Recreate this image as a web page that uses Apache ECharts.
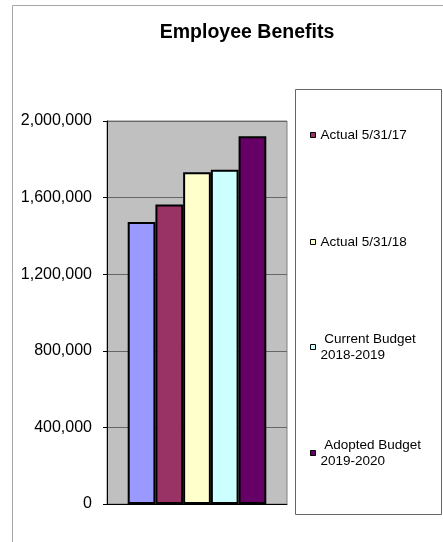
<!DOCTYPE html>
<html>
<head>
<meta charset="utf-8">
<script src="https://cdn.jsdelivr.net/npm/echarts@6/dist/echarts.min.js"></script>
<style>
  html, body { margin: 0; padding: 0; background: #fff; }
  #chart { width: 443px; height: 542px; }
</style>
</head>
<body>
<div id="chart"></div>
<script>
// Employee benefits by period
const categories = [''];
const seriesNames = ['', 'Actual 5/31/17', 'Actual 5/31/18', 'Current Budget 2018-2019', 'Adopted Budget 2019-2020'];
const seriesValues = [1473000, 1564000, 1732000, 1746000, 1920000];
const seriesColors = ['#9999FF', '#993366', '#FFFFCC', '#CCFFFF', '#660066'];
const yTicks = [0, 400000, 800000, 1200000, 1600000, 2000000];

// Legend text as it wraps inside the legend box
const legendText = {
  'Actual 5/31/17': 'Actual 5/31/17',
  'Actual 5/31/18': 'Actual 5/31/18',
  'Current Budget 2018-2019': ' Current Budget\n2018-2019',
  'Adopted Budget 2019-2020': ' Adopted Budget\n2019-2020'
};
// Centre line of each legend swatch
const legendRows = [135, 242, 347, 453];

const FONT = '"Liberation Sans", Arial, sans-serif';
const fmt = v => String(v).replace(/\B(?=(\d{3})+(?!\d))/g, ',');

const legends = seriesNames.slice(1).map((name, i) => {
  const twoLine = legendText[name].indexOf('\n') >= 0;
  return {
    data: [name],
    left: 310,
    top: legendRows[i] - (twoLine ? 24 : 8),
    padding: 0,
    icon: 'rect',
    itemWidth: 5,
    itemHeight: 5,
    itemStyle: { borderColor: '#000', borderWidth: 1 },
    selectedMode: false,
    formatter: n => legendText[n],
    textStyle: {
      fontFamily: FONT,
      fontSize: 13.5,
      color: '#000',
      lineHeight: 16,
      padding: twoLine ? [16, 0, 0, 0] : 0
    }
  };
});

const chart = echarts.init(document.getElementById('chart'), null, { renderer: 'canvas' });
chart.setOption({
  animation: false,
  backgroundColor: '#fff',
  title: {
    text: 'Employee Benefits',
    left: 247,
    textAlign: 'center',
    top: 23,
    padding: 0,
    textStyle: { fontFamily: FONT, fontSize: 19.5, fontWeight: 'bold', color: '#000', lineHeight: 20 }
  },
  legend: legends,
  grid: {
    left: 107,
    top: 121,
    width: 180,
    height: 383,
    show: true,
    backgroundColor: '#c0c0c0',
    borderColor: '#808080',
    borderWidth: 1
  },
  xAxis: {
    type: 'category',
    data: categories,
    axisLine: { show: true, lineStyle: { color: '#000', width: 1 } },
    axisTick: { show: false },
    axisLabel: { show: false },
    splitLine: { show: false }
  },
  yAxis: {
    type: 'value',
    min: yTicks[0],
    max: yTicks[yTicks.length - 1],
    interval: yTicks[1] - yTicks[0],
    axisLine: { show: true, lineStyle: { color: '#000', width: 1 } },
    axisTick: { show: true, inside: false, length: 4, lineStyle: { color: '#000' } },
    axisLabel: { fontFamily: FONT, fontSize: 16, color: '#000', margin: 15, formatter: fmt },
    splitLine: { show: true, lineStyle: { color: '#666', width: 1 } }
  },
  series: seriesNames.map((name, i) => ({
    type: 'bar',
    name: name,
    data: [seriesValues[i]],
    barGap: '0%',
    barCategoryGap: '23%',
    itemStyle: { color: seriesColors[i], borderColor: '#000', borderWidth: 2 }
  })),
  graphic: [
    {
      type: 'rect',
      silent: true,
      shape: { x: 12.5, y: 5.5, width: 700, height: 700 },
      style: { fill: null, stroke: '#a6a6a6', lineWidth: 1 }
    },
    {
      type: 'rect',
      silent: true,
      shape: { x: 295.5, y: 89.5, width: 146, height: 425 },
      style: { fill: null, stroke: '#666', lineWidth: 1 }
    }
  ]
});
</script>
</body>
</html>
